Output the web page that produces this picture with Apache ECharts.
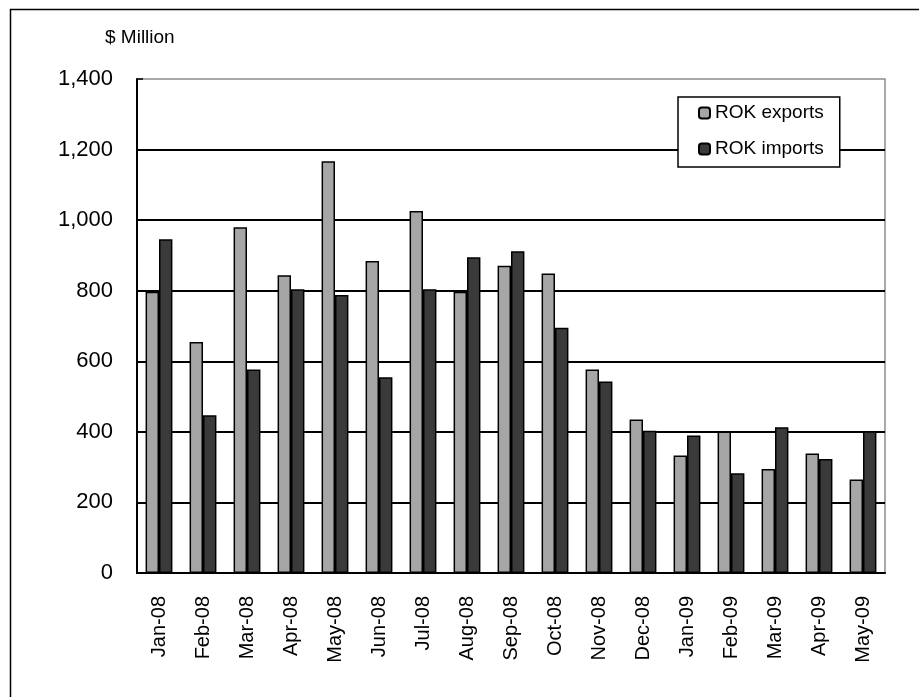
<!DOCTYPE html>
<html>
<head>
<meta charset="utf-8">
<script src="https://cdn.jsdelivr.net/npm/echarts@6/dist/echarts.min.js"></script>
<style>
html,body{margin:0;padding:0;background:#fff;}
#chart{width:919px;height:697px;}
</style>
</head>
<body>
<div id="chart"></div>
<script>
var categories = ["Jan-08","Feb-08","Mar-08","Apr-08","May-08","Jun-08","Jul-08","Aug-08","Sep-08","Oct-08","Nov-08","Dec-08","Jan-09","Feb-09","Mar-09","Apr-09","May-09"];
var exportsData = [797, 655, 980, 844, 1167, 884, 1026, 797, 871, 849, 577, 435, 333, 401, 295, 339, 265];
var importsData = [946, 447, 577, 804, 788, 555, 804, 895, 912, 695, 543, 403, 390, 283, 413, 323, 402];
var seriesNames = ["ROK exports", "ROK imports"];
var yTicks = [0, 200, 400, 600, 800, 1000, 1200, 1400];

var FONT = "'Liberation Sans', Arial, sans-serif";
var chart = echarts.init(document.getElementById('chart'), null, {renderer: 'canvas'});
chart.setOption({
  animation: false,
  backgroundColor: '#fff',
  title: {
    text: '$ Million',
    left: 105, top: 28, padding: 0,
    textStyle: {fontFamily: FONT, fontSize: 19, fontWeight: 'normal', color: '#000'}
  },
  graphic: [{
    type: 'rect', left: 8, top: 7, silent: true,
    shape: {width: 1000, height: 1000},
    style: {fill: 'none', stroke: '#000', lineWidth: 1.5}
  }],
  legend: {
    data: seriesNames,
    orient: 'vertical',
    left: 678, top: 97,
    padding: [6, 16, 8, 20],
    itemGap: 16,
    itemWidth: 11, itemHeight: 11,
    backgroundColor: '#fff',
    borderColor: '#000', borderWidth: 1.5,
    textStyle: {fontFamily: FONT, fontSize: 19, color: '#000', lineHeight: 20}
  },
  grid: {
    left: 137, right: 34, top: 79, bottom: 124,
    show: true, borderColor: '#8c8c8c', borderWidth: 1.5, backgroundColor: 'transparent'
  },
  xAxis: {
    type: 'category',
    data: categories,
    axisLine: {lineStyle: {color: '#000', width: 2}},
    axisTick: {inside: true, length: 7, lineStyle: {color: '#000', width: 1.5}},
    axisLabel: {rotate: 90, margin: 23, fontFamily: FONT, fontSize: 20, color: '#000', interval: 0}
  },
  yAxis: {
    type: 'value',
    min: yTicks[0], max: yTicks[yTicks.length - 1], interval: 200,
    axisLine: {show: true, lineStyle: {color: '#000', width: 2}},
    axisTick: {show: true, inside: true, length: 6, lineStyle: {color: '#000', width: 1.5}},
    axisLabel: {
      margin: 24, fontFamily: FONT, fontSize: 22, color: '#000',
      formatter: function (v) { return v.toLocaleString('en-US'); }
    },
    splitLine: {show: true, showMaxLine: false, lineStyle: {color: '#000', width: 2}}
  },
  series: [{
    name: seriesNames[0], type: 'bar', data: exportsData,
    barGap: '0%', barCategoryGap: '39%',
    itemStyle: {color: '#a6a6a6', borderColor: '#000', borderWidth: 1.5}
  }, {
    name: seriesNames[1], type: 'bar', data: importsData,
    barGap: '0%', barCategoryGap: '39%',
    itemStyle: {color: '#3a3a3a', borderColor: '#000', borderWidth: 1.5}
  }]
});
</script>
</body>
</html>
